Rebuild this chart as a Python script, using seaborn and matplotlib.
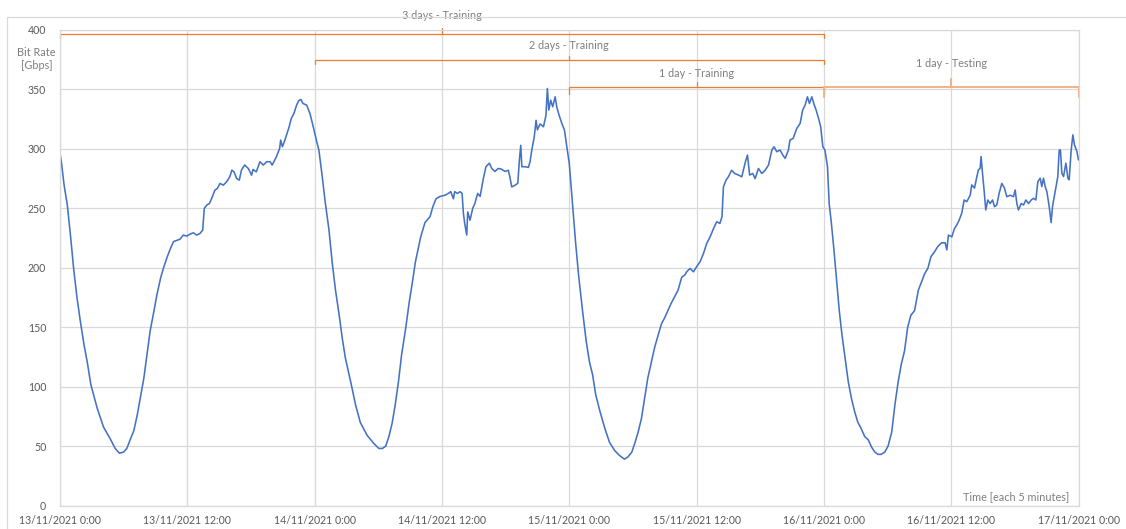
import numpy as np
import pandas as pd
import matplotlib
matplotlib.use("Agg")
import matplotlib.pyplot as plt
import matplotlib.dates as mdates
from matplotlib.patches import Rectangle
import seaborn as sns

# ---- data (hours since 13/11/2021 0:00, bit rate in Gbps) ----
hours = [
    # day 1
    0.0, 0.13, 0.38, 0.7, 1.0, 1.3, 1.6, 1.9, 2.25, 2.6, 2.9, 3.5, 4.1, 4.8, 5.2, 5.6,
    6.0, 6.3, 6.6, 6.96, 7.3, 7.6, 7.9, 8.2, 8.5, 8.8, 9.15, 9.5, 9.8, 10.1, 10.4, 10.7, 11.0,
    11.31, 11.63, 11.94, 12.25, 12.57, 12.88, 13.2, 13.45, 13.6, 13.83, 14.08, 14.3, 14.6,
    14.83, 15.08, 15.4, 15.7, 16.0, 16.2, 16.4, 16.65, 16.9, 17.1, 17.4, 17.75, 18.06, 18.2,
    18.5, 18.85, 19.16, 19.48, 19.8, 20.0, 20.4, 20.7, 20.8, 20.96, 21.2, 21.4, 21.6, 21.8,
    22.05, 22.3, 22.5, 22.7, 22.9, 23.25, 23.56, 23.87, 24.2, 24.4,
    # day 2
    24.7, 25.0, 25.35, 25.66, 25.97, 26.3, 26.6, 26.9, 27.4, 27.85, 28.3, 28.95, 29.6, 30.05,
    30.4, 30.7, 31.0, 31.3, 31.6, 31.9, 32.2, 32.6, 32.9, 33.2, 33.5, 34.0, 34.4,
    34.88, 35.13, 35.44, 35.82, 36.29, 36.6, 36.83, 37.08, 37.2, 37.45, 37.7, 37.9, 38.02,
    38.15, 38.34, 38.43, 38.65, 38.9, 39.1, 39.37, 39.6, 39.74, 39.9, 40.15, 40.47, 40.7,
    41.0, 41.3, 41.6, 41.95, 42.26, 42.4, 42.58, 42.9, 43.15, 43.3, 43.43, 43.53, 43.84,
    44.15, 44.3, 44.47, 44.7, 44.87, 45.0, 45.25, 45.57, 45.8, 45.94, 46.07, 46.25, 46.44,
    46.67, 46.82, 47.04, 47.3, 47.55, 47.77, 48.0,
    # day 3
    48.3, 48.6, 48.9, 49.25, 49.6, 49.9, 50.2, 50.5, 50.9, 51.35, 51.8, 52.3, 52.75, 53.2,
    53.55, 53.9, 54.2, 54.5, 54.8, 55.1, 55.4, 55.75, 56.05, 56.4, 56.7, 57.0, 57.3, 57.6,
    57.9, 58.25, 58.6, 58.9, 59.1,
    59.39, 59.7, 60.0, 60.33, 60.65, 60.96, 61.28, 61.6, 61.9, 62.2, 62.4, 62.53, 62.78,
    63.0, 63.3, 63.6, 63.95, 64.26, 64.6, 64.8, 65.0, 65.3, 65.52, 65.83, 66.15, 66.46,
    66.78, 67.1, 67.3, 67.56, 67.87, 68.13, 68.35, 68.66, 68.8, 69.1, 69.45, 69.76, 70.0,
    70.23, 70.45, 70.64, 70.86, 71.1, 71.27, 71.5, 71.7, 71.9, 72.1, 72.34, 72.5,
    # day 4
    72.7, 72.95, 73.2, 73.45, 73.7, 74.0, 74.3, 74.6, 74.9, 75.2, 75.5, 75.85, 76.2, 76.5,
    76.8, 77.1, 77.4, 77.75, 78.05, 78.4, 78.7, 79.0, 79.3, 79.6, 79.9, 80.2, 80.55, 80.9,
    81.2, 81.5, 81.8, 82.1, 82.4, 82.75, 83.1,
    83.43, 83.59, 83.74, 84.06, 84.31, 84.53, 84.75, 85.0, 85.22, 85.47, 85.79, 85.94, 86.2,
    86.42, 86.57, 86.73, 86.82, 86.95, 87.1, 87.26, 87.45, 87.67, 87.9, 88.08, 88.3, 88.52,
    88.77, 89.02, 89.24, 89.56, 89.87, 90.03, 90.19, 90.34, 90.6, 90.82, 91.04, 91.29,
    91.54, 91.76, 91.98, 92.17, 92.39, 92.54, 92.7, 92.86, 93.02, 93.24, 93.42, 93.55,
    93.8, 94.05, 94.18, 94.3, 94.43, 94.59, 94.81, 95.0, 95.12, 95.31, 95.47, 95.62,
    95.85, 96.0,
]
bitrate = [
    # day 1
    296, 289, 270, 252, 226, 198, 175, 156, 136, 119, 102, 82, 66, 55, 48, 44,
    45, 48, 55, 63, 77, 92, 107, 127, 147, 161, 178, 192, 201, 209, 216, 222, 223,
    224, 227.5, 226.6, 228.3, 229.4, 227.5, 228.9, 231.7, 249.9, 252.7, 254, 258.3, 265.3,
    266.7, 270.9, 269.5, 272.3, 276.5, 282.1, 280.7, 275.1, 273.7, 282.1, 286.4, 283.5, 277.9, 282.7,
    280.7, 289.2, 286.4, 289.2, 289.2, 286.4, 293.4, 300.4, 307.4, 301.8, 307.4, 313, 318.6, 325.6,
    329.8, 336.8, 340.5, 341.6, 338.2, 336.8, 329.8, 318.6, 306, 299,
    # day 2
    278, 255, 232, 204, 181, 161, 141, 124, 104, 85, 70, 59, 52, 48,
    48, 50, 58, 69, 85, 104, 127, 150, 170, 187, 205, 226, 238,
    243, 251, 258, 260, 261, 262.5, 264, 258, 264, 262.5, 264, 262.5, 246,
    237, 227.5, 247, 240, 250, 254, 262.5, 260, 267, 275, 285, 288, 283.5,
    281, 283.5, 283, 281, 282, 276.5, 268, 269.5, 271, 290.6, 303, 285, 285,
    284.4, 289, 299, 310, 324, 316, 321, 318.6, 328, 350.8, 332.6, 341, 335.4,
    343.8, 335.4, 328.4, 321.4, 315.8, 301.8, 288,
    # day 3
    255, 221, 192, 164, 138, 121, 110, 93, 79, 65, 53, 46, 42, 39,
    41, 45, 53, 62, 73, 90, 107, 121, 133, 144, 153, 158, 164, 170,
    175, 181, 192, 194, 197,
    199.4, 196.6, 200.8, 205, 212, 220.5, 226, 233, 238.7, 237.3, 243, 268, 273.7,
    276.5, 282, 279.3, 278, 276.5, 289, 294.8, 278, 279.3, 275, 283.5, 279.3, 282,
    286.4, 299, 301.8, 297.6, 299, 294.8, 292, 299, 307.4, 308.8, 317.2, 321.4, 332.6,
    336.8, 343.8, 338.2, 343.8, 336.8, 332.6, 325.6, 318.6, 301.8, 299, 285, 254,
    # day 4
    238, 215, 190, 164, 144, 124, 104, 90, 79, 70, 65, 58, 55, 49,
    45, 43, 43, 45, 50, 62, 85, 104, 119, 130, 150, 160, 164, 181,
    188, 195, 199.5, 209.5, 213, 218, 221,
    221, 215, 227.5, 226, 233, 236, 240, 246, 257, 255.6, 261, 269.7, 267,
    276.7, 282.3, 283.7, 293.5, 279.5, 265.4, 248.6, 257, 254, 257, 251.4, 252.8, 262.6,
    271, 267, 259.8, 261, 259.8, 265.4, 254, 248.6, 254, 252.8, 257, 254,
    257, 258.4, 257, 272.5, 275.3, 268.3, 275.3, 268.3, 264, 251.4, 238, 251.4,
    264, 276.7, 299, 299, 279.5, 276.7, 288, 275.3, 274, 299, 311.8, 303.4,
    297.8, 290.7,
]
assert len(hours) == len(bitrate)

start_label = "2021-11-13 00:00"
tick_hours = [0, 12, 24, 36, 48, 60, 72, 84, 96]
tick_labels = [
    "13/11/2021 0:00", "13/11/2021 12:00", "14/11/2021 0:00", "14/11/2021 12:00",
    "15/11/2021 0:00", "15/11/2021 12:00", "16/11/2021 0:00", "16/11/2021 12:00",
    "17/11/2021 0:00",
]
y_ticks = [0, 50, 100, 150, 200, 250, 300, 350, 400]

# period brackets
bracket_labels = ["3 days - Training", "2 days - Training", "1 day - Training", "1 day - Testing"]
bracket_start = [0, 24, 48, 72]
bracket_end = [72, 72, 72, 96]
bracket_level = [397, 375, 352, 352]
bracket_drop = [393, 371, 346, 344]
bracket_peak = [401.5, 378.5, 356, 358.5]
bracket_text_y = [412.5, 387, 363.5, 371.5]

# ---- styling ----
sns.set_theme(style="white")
plt.rcParams["font.family"] = ["Lato", "DejaVu Sans"]

W, H, DPI = 1126, 529, 100
fig = plt.figure(figsize=(W / DPI, H / DPI), dpi=DPI)
ax = fig.add_axes([60 / W, 1 - 505.5 / H, (1078.5 - 60) / W, (505.5 - 30) / H])

start = pd.Timestamp(start_label)
df = pd.DataFrame({
    "time": start + pd.to_timedelta(hours, unit="h"),
    "rate": bitrate,
})

sns.lineplot(data=df, x="time", y="rate", ax=ax, color="#4472C4", linewidth=1.15)


def hx(h):
    return mdates.date2num(start + pd.Timedelta(hours=h))


ax.set_xlim(hx(0), hx(96))
ax.set_ylim(0, 400)
ax.set_xticks([hx(h) for h in tick_hours])
ax.set_xticklabels(tick_labels)
ax.set_yticks(y_ticks)
ax.set_yticklabels([str(v) for v in y_ticks])
ax.grid(True, color="#d9d9d9", linewidth=0.9)
ax.set_axisbelow(True)
for s in ax.spines.values():
    s.set_color("#d9d9d9")
    s.set_linewidth(0.9)
ax.tick_params(axis="both", length=0, labelsize=7.6, labelcolor="#595959")
ax.tick_params(axis="x", pad=6.5)
ax.tick_params(axis="y", pad=10)
ax.set_xlabel("")
ax.set_ylabel("")

# brackets
for i, lab in enumerate(bracket_labels):
    col = "#ED7D31" if i < 3 else "#F4B183"
    lw = 0.9 if i < 3 else 1.4
    x0, x1 = hx(bracket_start[i]), hx(bracket_end[i])
    xm = (x0 + x1) / 2
    yl = bracket_level[i]
    ax.plot([x0, x0, x1, x1], [bracket_drop[i], yl, yl, bracket_drop[i]],
            color=col, lw=lw, clip_on=False, solid_joinstyle="miter")
    ax.plot([xm, xm], [yl, bracket_peak[i]], color=col, lw=lw, clip_on=False)
    ax.text(xm, bracket_text_y[i], lab, ha="center", va="center",
            fontsize=7.8, color="#7f7f7f", clip_on=False)

# axis titles
fig.text(36.5 / W, 1 - 59 / H, "Bit Rate\n[Gbps]", ha="center", va="center",
         fontsize=7.8, color="#7f7f7f", linespacing=1.3)
fig.text(1069 / W, 1 - 497 / H, "Time [each 5 minutes]", ha="right", va="center",
         fontsize=7.8, color="#7f7f7f")

# outer chart frame
fig.patches.append(Rectangle((7 / W, -0.05), 1.2, 1 - 17 / H + 0.05,
                             transform=fig.transFigure, fill=False,
                             edgecolor="#d9d9d9", linewidth=0.9))

fig.savefig("out.png", dpi=DPI)
